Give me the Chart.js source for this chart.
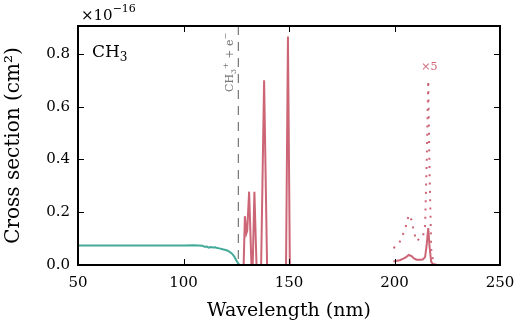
<!DOCTYPE html>
<html>
<head>
<meta charset="utf-8">
<script src="https://cdn.jsdelivr.net/npm/chart.js@4.4.1/dist/chart.umd.min.js"></script>
<style>
  html, body { margin: 0; padding: 0; background: #fff; }
  canvas { display: block; }
</style>
</head>
<body>
<canvas id="xsChart" width="525" height="325"></canvas>
<script>
// cross sections in units of 1e-16 cm^2, wavelength in nm
const absWave = [50, 60, 70, 80, 90, 100, 105, 109, 110, 111, 112, 113, 114, 115, 116, 117, 118, 119, 120, 121, 122, 123, 124, 125, 126, 126.5];
const absXs   = [0.074, 0.074, 0.074, 0.074, 0.074, 0.074, 0.0745, 0.073, 0.069, 0.070, 0.066, 0.068, 0.066, 0.067, 0.064, 0.063, 0.061, 0.059, 0.057, 0.054, 0.049, 0.043, 0.033, 0.018, 0.005, 0];

const dissWaveA = [127.5, 128.5, 129.1, 129.8, 130.2, 131.1, 132.2, 132.8, 133.6, 134.6, 136.8, 138.2, 139.6, 148.6, 149.5, 150.4];
const dissXsA   = [0, 0, 0.185, 0.12, 0.13, 0.278, 0, 0, 0.278, 0, 0, 0.70, 0, 0, 0.866, 0];

const dissWaveB = [199.5, 200.5, 202.5, 204.2, 205.5, 206.8, 208.1, 209.2, 210.5, 211.8, 213.4, 214.5, 215.3, 216.0, 216.6, 217.4, 218.2, 219.2, 220.0];
const dissXsB   = [0.013, 0.015, 0.018, 0.024, 0.030, 0.038, 0.034, 0.025, 0.020, 0.020, 0.021, 0.030, 0.080, 0.140, 0.070, 0.012, 0.004, 0.002, 0.002];
const dissXsB5  = [0.064, 0.070, 0.088, 0.120, 0.150, 0.190, 0.170, 0.125, 0.090, 0.100, 0.105, 0.150, 0.400, 0.700, 0.360, 0.060, 0.020, 0.010, 0.010];

const xTicks = [50, 100, 150, 200, 250];
const yTicks = [0, 0.2, 0.4, 0.6, 0.8];
const ionEdge = 126;

const teal = '#44AA99';
const rose = '#CC6677';
const serif = '"DejaVu Serif", serif';

const pts = (xs, ys) => xs.map((x, i) => ({ x: x, y: ys[i] }));

// draw a run of text pieces: [text, size, dy]
function richText(ctx, parts, x, y) {
  let cx = x;
  parts.forEach(([t, size, dy]) => {
    ctx.font = size + 'px ' + serif;
    ctx.fillText(t, cx, y + dy);
    cx += ctx.measureText(t).width;
  });
  return cx - x;
}

const frame = {
  id: 'frame',
  beforeDatasetsDraw(chart) {
    const { ctx, chartArea: a, scales: { x } } = chart;
    const px = x.getPixelForValue(ionEdge);
    ctx.save();
    ctx.strokeStyle = '#777';
    ctx.lineWidth = 1.2;
    ctx.setLineDash([9, 7]);
    ctx.beginPath();
    ctx.moveTo(px, a.top);
    ctx.lineTo(px, a.bottom);
    ctx.stroke();
    ctx.restore();
  },
  afterDraw(chart) {
    const { ctx, chartArea: a, scales: { x, y } } = chart;
    ctx.save();
    // inward ticks on all four sides
    ctx.strokeStyle = '#000';
    ctx.lineWidth = 1;
    ctx.beginPath();
    xTicks.forEach(v => {
      const p = Math.round(x.getPixelForValue(v)) + 0.5;
      ctx.moveTo(p, a.bottom); ctx.lineTo(p, a.bottom - 6);
      ctx.moveTo(p, a.top); ctx.lineTo(p, a.top + 6);
    });
    yTicks.forEach(v => {
      const p = Math.round(y.getPixelForValue(v)) + 0.5;
      ctx.moveTo(a.left, p); ctx.lineTo(a.left + 6, p);
      ctx.moveTo(a.right, p); ctx.lineTo(a.right - 6, p);
    });
    ctx.stroke();
    ctx.lineWidth = 2;
    ctx.strokeRect(a.left, a.top, a.right - a.left, a.bottom - a.top);

    // species label
    ctx.fillStyle = '#000';
    ctx.textAlign = 'left';
    ctx.textBaseline = 'alphabetic';
    richText(ctx, [['CH', 17, 0], ['3', 12, 4]], a.left + 14, a.top + 31);

    // offset exponent
    richText(ctx, [['\u00d710', 15, 0], ['\u221216', 11, -8]], a.left + 3, a.top - 6);

    // ionisation edge label
    ctx.save();
    ctx.fillStyle = '#777';
    ctx.translate(x.getPixelForValue(ionEdge) - 5, a.top + 66);
    ctx.rotate(-Math.PI / 2);
    richText(ctx, [['CH', 11, 0], ['3', 8, 3], ['+', 8, -5], [' + e', 11, 0], ['\u2212', 8, -5]], 0, 0);
    ctx.restore();

    // x5 marker
    ctx.fillStyle = rose;
    ctx.textAlign = 'center';
    ctx.font = '11px ' + serif;
    ctx.fillText('\u00d75', x.getPixelForValue(216.5), y.getPixelForValue(0.74));
    ctx.restore();
  }
};

new Chart(document.getElementById('xsChart'), {
  type: 'scatter',
  data: {
    datasets: [
      { data: pts(absWave, absXs), borderColor: teal, borderWidth: 2 },
      { data: pts(dissWaveA, dissXsA), borderColor: rose, borderWidth: 2 },
      { data: pts(dissWaveB, dissXsB), borderColor: rose, borderWidth: 2 },
      { data: pts(dissWaveB, dissXsB5), borderColor: rose, borderWidth: 2, borderDash: [2, 6.3] }
    ].map(d => Object.assign({ showLine: true, pointRadius: 0, tension: 0, fill: false }, d))
  },
  options: {
    responsive: false,
    animation: false,
    layout: { padding: { top: 26, right: 25, left: 0, bottom: 0 } },
    plugins: { legend: { display: false }, tooltip: { enabled: false } },
    scales: {
      x: {
        type: 'linear', min: 50, max: 250,
        afterFit: s => { s.height = 60; },
        afterBuildTicks: s => { s.ticks = xTicks.map(v => ({ value: v })); },
        grid: { display: false, drawTicks: false },
        border: { display: false },
        ticks: { padding: 9, color: '#000', font: { family: serif, size: 15 }, maxRotation: 0 },
        title: { display: true, text: 'Wavelength (nm)', color: '#000', font: { family: serif, size: 19 }, padding: { top: 0, bottom: 3 } }
      },
      y: {
        type: 'linear', min: 0, max: 0.906,
        afterFit: s => { s.width = 78; },
        afterBuildTicks: s => { s.ticks = yTicks.map(v => ({ value: v })); },
        grid: { display: false, drawTicks: false },
        border: { display: false },
        ticks: { padding: 8, color: '#000', font: { family: serif, size: 15 }, callback: v => v.toFixed(1) },
        title: { display: true, text: 'Cross section (cm\u00b2)', color: '#000', font: { family: serif, size: 20 }, padding: { top: 2, bottom: 0 } }
      }
    }
  },
  plugins: [frame]
});
</script>
</body>
</html>
